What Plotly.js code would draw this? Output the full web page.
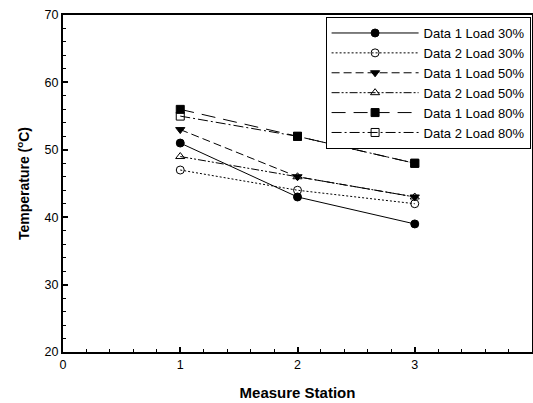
<!DOCTYPE html>
<html>
<head>
<meta charset="utf-8">
<script src="https://cdn.plot.ly/plotly-3.0.1.min.js"></script>
<style>html,body{margin:0;padding:0;background:#fff;}#chart{width:533px;height:403px;}</style>
</head>
<body>
<div id="chart"></div>
<script>
const stations = [1, 2, 3];
const seriesNames = ["Data 1 Load 30%", "Data 2 Load 30%", "Data 1 Load 50%", "Data 2 Load 50%", "Data 1 Load 80%", "Data 2 Load 80%"];
const data1Load30 = [51, 43, 39];
const data2Load30 = [47, 44, 42];
const data1Load50 = [53, 46, 43];
const data2Load50 = [49, 46, 43];
const data1Load80 = [56, 52, 48];
const data2Load80 = [55, 52, 48];
const xTicks = [0, 1, 2, 3, 4];
const yTicks = [20, 30, 40, 50, 60, 70];

const values = [data1Load30, data2Load30, data1Load50, data2Load50, data1Load80, data2Load80];
const dashes = ["solid", "2px,2px", "8px,4px", "8px,2px,2px,2px,2px,2px", "14px,8px", "10px,3px,2px,3px"];
const symbols = ["circle", "circle-open", "triangle-down", "triangle-up-open", "square", "square-open"];

const traces = values.map((v, i) => ({
  x: stations, y: v, name: seriesNames[i], type: "scatter", mode: "lines+markers",
  line: {color: "#000", width: 1, dash: dashes[i]},
  marker: {symbol: symbols[i], size: 8, color: "#000", line: {color: "#000", width: 1}}
}));

const fam = "Liberation Sans, Arial, sans-serif";
const xRange = [xTicks[0], xTicks[xTicks.length - 1]];
const yRange = [yTicks[0], yTicks[yTicks.length - 1]];

const layout = {
  width: 533, height: 403,
  margin: {l: 63, r: 1, t: 15, b: 51},
  paper_bgcolor: "#fff", plot_bgcolor: "#fff",
  font: {family: fam, color: "#000"},
  showlegend: true,
  legend: {x: 0.997, xanchor: "right", y: 0.994, yanchor: "top", bordercolor: "#000", borderwidth: 1,
    bgcolor: "#fff", tracegroupgap: 0, itemwidth: 87, entrywidth: 124,
    font: {size: 13, family: fam, color: "#000"}},
  xaxis: {
    range: xRange, tickmode: "linear", tick0: xTicks[0], dtick: xTicks[1] - xTicks[0],
    showline: true, linecolor: "black", linewidth: 2, mirror: true,
    ticks: "inside", ticklen: 5, tickwidth: 2, tickcolor: "black", showgrid: false, zeroline: false,
    tickfont: {family: fam, size: 12.5, color: "#000"},
    minor: {ticks: "inside", ticklen: 3, tickwidth: 1, tickcolor: "black", dtick: 0.2},
    title: {text: "<b>Measure Station</b>", font: {size: 15, family: fam}, standoff: 16}
  },
  yaxis: {
    range: yRange, tickmode: "linear", tick0: yTicks[0], dtick: yTicks[1] - yTicks[0],
    showline: true, linecolor: "black", linewidth: 2, mirror: true,
    ticks: "inside", ticklen: 5, tickwidth: 2, tickcolor: "black", showgrid: false, zeroline: false,
    tickfont: {family: fam, size: 12.5, color: "#000"},
    minor: {ticks: "inside", ticklen: 3, tickwidth: 1, tickcolor: "black", dtick: 2},
    title: {text: "<b>Temperature (<sup>o</sup>C)</b>", font: {size: 14, family: fam}, standoff: 12}
  }
};

Plotly.newPlot("chart", traces, layout, {displayModeBar: false});
</script>
</body>
</html>
